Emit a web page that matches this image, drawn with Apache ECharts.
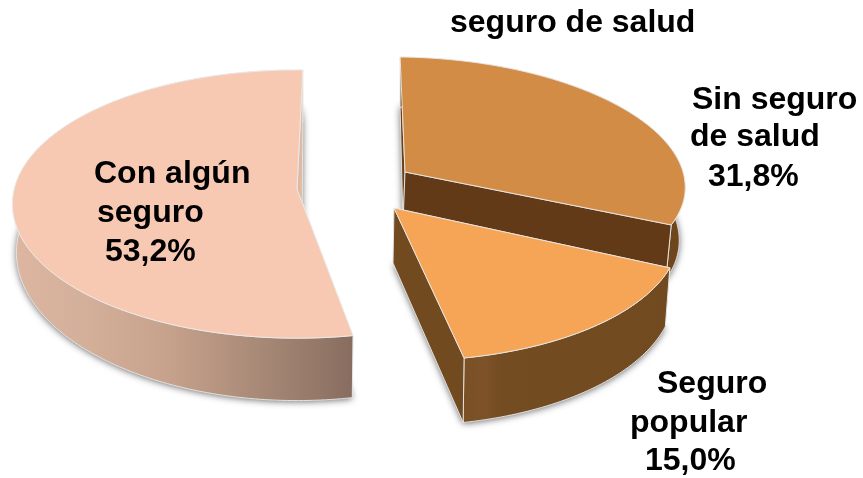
<!DOCTYPE html>
<html><head><meta charset="utf-8">
<style>html,body{margin:0;padding:0;background:#fff}#c{width:863px;height:478px}</style>
<script src="https://cdn.jsdelivr.net/npm/echarts@6/dist/echarts.min.js"></script>
</head><body><div id="c"></div>
<script>
// Data (clockwise from the pie's first angle)
const categories = ['Sin seguro de salud', 'Seguro popular', 'Con algún seguro'];
const values = [31.8, 15.0, 53.2];
const firstAngle = 1.3;

// Label text, line by line
const labelLines = [
  ['seguro de salud'],
  ['Sin seguro', 'de salud', '31,8%'],
  ['Seguro', 'popular', '15,0%'],
  ['Con algún', 'seguro', '53,2%']
];

// Projection of each exploded slice on the page (3D perspective look)
// backEnd: which end of the arc is the far corner (0 = first, 1 = last, null = none)
const projections = [
  {ax:405, ay:172, ox:417, oy:172, a:266, b:119.6, s:23.6, p:.04,  depth:52, q:.10,  lean:6, backEnd:0,    backDepth:51, apexDx:-2},
  {ax:394, ay:208, ox:394, oy:208, a:280, b:127.8, s:9.2,  p:.164, depth:55, q:.15,  lean:5, backEnd:null, backDepth:0,  apexDx:-1},
  {ax:297, ay:189, ox:297, oy:190, a:283, b:132.6, s:0,    p:.105, depth:47, q:.247, lean:4, backEnd:1,    backDepth:52, apexDx:5}
];
const edgeColor = 'rgba(235,235,235,.9)';
const shadow = {shadowBlur:7, shadowColor:'rgba(0,0,0,.6)', shadowOffsetY:1};
const sideBand = (stops) => ({type:'linear', global:true, x:stops[0][0], y:0, x2:stops[stops.length-1][0], y2:0,
  colorStops: stops.map(s => ({offset:(s[0]-stops[0][0])/(stops[stops.length-1][0]-stops[0][0]), color:s[1]}))});
const looks = [
  {top:'#d38c46', wall:'#623a17', side:'#6f451c', hidden:'#6a4019'},
  {top:'#f5a555', wall:'#714a20', hidden:'#714a20',
   side:sideBand([[463,'#7a5026'],[485,'#7d5229'],[500,'#744c22'],[670,'#714a20']])},
  {top:'#f7c9b2', wall:'#e0b9a2', hidden:'#e0b9a2',
   side:sideBand([[15,'#dcb6a0'],[90,'#d3ae98'],[170,'#c6a18b'],[250,'#ab8c79'],[310,'#977a6a'],[355,'#866c5f']])}
];

function project(pr, deg) {
  const t = deg * Math.PI / 180, u = Math.sin(t), v = -Math.cos(t), w = 1 - pr.p * v;
  const x = pr.ox + (pr.a * u + pr.s * v) / w, y = pr.oy + pr.b * v / w;
  return {top:[x, y], bottom:[x - pr.lean * u, y + pr.depth / (1 - pr.q * v)]};
}

let cumulative = firstAngle;
const angles = values.map(val => {
  const from = cumulative; cumulative += val / 100 * 360;
  return [from, cumulative];
});

function renderItem(params, api) {
  const i = api.value(0), pr = projections[i], lk = looks[i], [a0, a1] = angles[i];
  const tops = [], bots = [];
  for (let d = a0; d < a1; d += 1) { const q = project(pr, d); tops.push(q.top); bots.push(q.bottom); }
  const qe = project(pr, a1); tops.push(qe.top); bots.push(qe.bottom);
  const last = tops.length - 1;
  if (pr.backEnd !== null) {
    const k = pr.backEnd ? last : 0;
    bots[k] = [tops[k][0], tops[k][1] + pr.backDepth];
  }
  const apexTop = [pr.ax, pr.ay], apexBot = [pr.ax + pr.apexDx, pr.ay + pr.depth];
  const poly = (pts, fill, sh) => ({type:'polygon', shape:{points:pts},
    style:Object.assign({fill, stroke:sh ? 'none' : edgeColor, lineWidth:1}, sh ? shadow : {})});
  const under = poly([apexBot].concat(bots), '#777', true);
  const wallFirst = poly([apexTop, tops[0], bots[0], apexBot], i === 0 ? lk.hidden : lk.wall, false);
  const wallLast = poly([apexTop, tops[last], bots[last], apexBot], i === 2 ? lk.hidden : lk.wall, false);
  const outer = poly(tops.concat(bots.slice().reverse()), lk.side, false);
  const top = poly([apexTop].concat(tops), lk.top, false);
  return {type:'group', children:[under, wallFirst, outer, wallLast, top]};
}

const fs = 32;
const labelPos = [
  [[450, 23]],
  [[692, 100], [690, 137], [708, 177]],
  [[657, 384], [630, 423], [645, 461]],
  [[94, 174], [97, 213], [105, 252]]
];
const graphic = [];
labelLines.forEach((lines, i) => lines.forEach((t, j) => graphic.push({
  type:'text', left:labelPos[i][j][0], top:labelPos[i][j][1] - fs/2, z:50,
  style:{text:t, fill:'#000', font:'bold '+fs+'px "Liberation Sans", Arial, sans-serif'}
})));

const chart = echarts.init(document.getElementById('c'), null, {renderer:'canvas'});
chart.setOption({
  animation:false,
  backgroundColor:'#fff',
  series:[{
    type:'custom', coordinateSystem:'none', renderItem,
    data: categories.map((c, i) => ({name:c, value:[i, values[i]]}))
  }],
  graphic
});
</script></body></html>
